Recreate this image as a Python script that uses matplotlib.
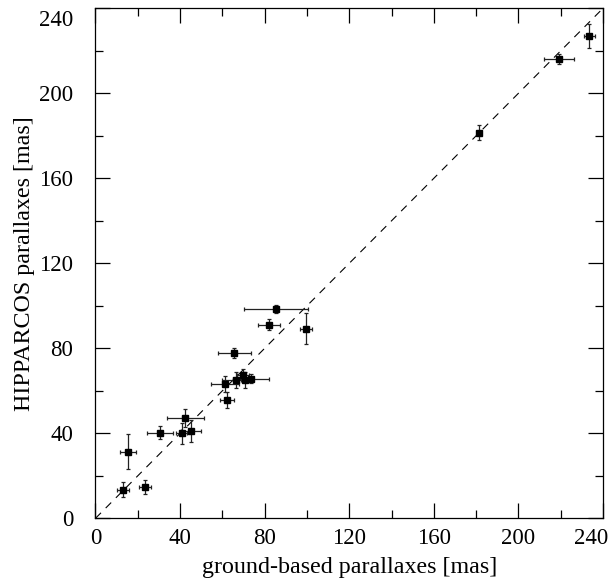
import matplotlib
matplotlib.use("Agg")
import matplotlib.pyplot as plt
import matplotlib.transforms as mtransforms

plt.rcParams['font.family'] = ['Liberation Serif', 'DejaVu Serif']
plt.rcParams['mathtext.fontset'] = 'stix'

# ground-based parallaxes [mas]
ground = [12.9, 15.4, 23.4, 30.5, 40.8, 42.4, 45.1, 61.1, 62.1, 65.6, 66.4,
          69.7, 70.8, 73.5, 82.1, 85.3, 99.6, 181.5, 219.2, 233.6]
ground_err = [2.8, 3.6, 2.7, 6.2, 2.7, 8.8, 4.6, 6.6, 3.3, 7.9, 6.7,
              2.8, 2.0, 8.5, 5.1, 15.3, 3.0, 1.0, 7.1, 2.4]
# HIPPARCOS parallaxes [mas]
hip = [13.5, 31.3, 14.7, 40.3, 40.0, 47.3, 41.2, 63.4, 55.8, 77.9, 65.2,
       67.4, 65.2, 65.7, 91.1, 98.5, 89.1, 181.5, 216.1, 227.0]
hip_err = [3.7, 8.3, 3.3, 3.1, 4.9, 4.3, 5.1, 3.8, 3.7, 2.4, 3.7,
           2.9, 3.7, 2.0, 2.5, 2.0, 7.3, 3.7, 2.2, 5.5]

ticks = [0, 40, 80, 120, 160, 200, 240]
minor_ticks = [20, 60, 100, 140, 180, 220]

fig = plt.figure(figsize=(6.11, 5.81), dpi=100)
ax = fig.add_axes([0.1563, 0.1079, 0.9869 - 0.1563, 0.9857 - 0.1079])

ax.plot([0, 240], [0, 240], ls=(0, (7, 6)), color='black', lw=0.8, zorder=1)
ax.errorbar(ground, hip, xerr=ground_err, yerr=hip_err, fmt='s', ms=5,
            mfc='black', mec='black', ecolor='#222222', elinewidth=0.9,
            capsize=1.2, capthick=0.9, zorder=3)

ax.set_xlim(0, 240)
ax.set_ylim(0, 240)
ax.set_xticks(ticks)
ax.set_yticks(ticks)
ax.set_xticks(minor_ticks, minor=True)
ax.set_yticks(minor_ticks, minor=True)
ax.tick_params(which='both', direction='in', top=True, right=True,
               labelsize=16.5, width=0.9)
ax.tick_params(axis='x', which='major', pad=7)
ax.tick_params(axis='y', which='major', pad=16)
ax.tick_params(which='major', length=10.5)
ax.tick_params(which='minor', length=5.5)
for s in ax.spines.values():
    s.set_linewidth(0.9)

ax.set_xlabel('ground-based parallaxes [mas]', fontsize=17.3, labelpad=5.5)
ax.set_ylabel('HIPPARCOS parallaxes [mas]', fontsize=17.3, labelpad=3)

fig.canvas.draw()
xl = ax.get_xticklabels()[-1]
xl.set_transform(xl.get_transform() + mtransforms.ScaledTranslation(-12 / 100, 0, fig.dpi_scale_trans))
yl = ax.get_yticklabels()[-1]
yl.set_transform(yl.get_transform() + mtransforms.ScaledTranslation(0, -10 / 100, fig.dpi_scale_trans))

fig.savefig('out.png', dpi=100)
